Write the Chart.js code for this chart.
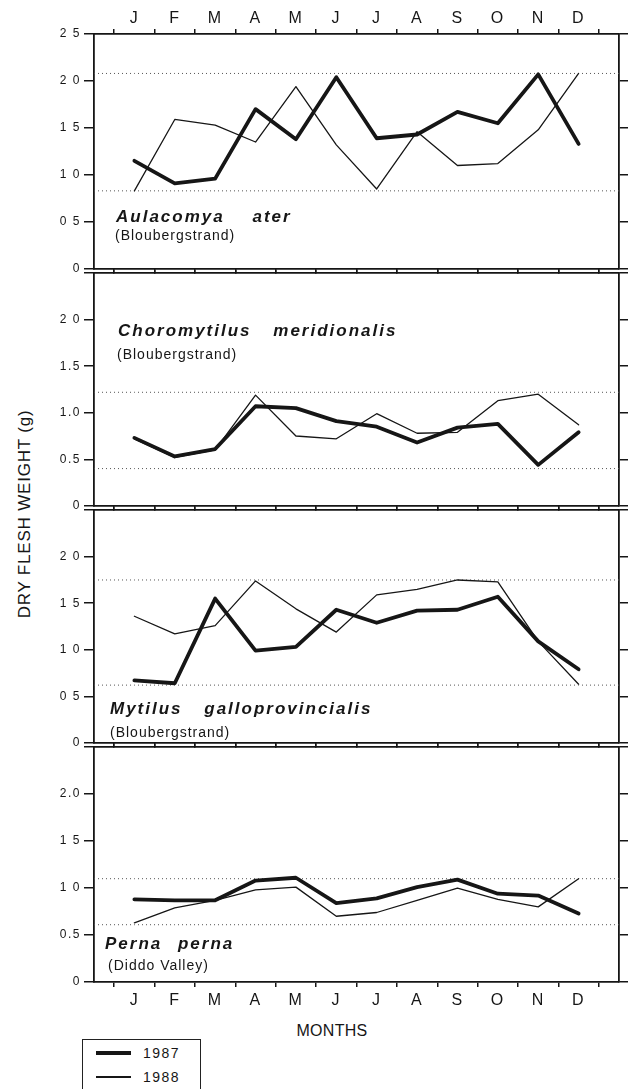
<!DOCTYPE html>
<html>
<head>
<meta charset="utf-8">
<title>Dry flesh weight of mussels, 1987-1988</title>
<script src="https://cdn.jsdelivr.net/npm/chart.js@4.4.1/dist/chart.umd.min.js"></script>
<style>
  html, body { margin: 0; padding: 0; background: #fff; }
  #page {
    position: relative; width: 635px; height: 1089px; overflow: hidden;
    font-family: 'Liberation Sans', Arial, sans-serif; color: #161616;
  }
  #page canvas { position: absolute; left: 0; }
  .species {
    position: absolute; font: italic bold 17px/17px 'Liberation Sans', Arial, sans-serif;
    letter-spacing: 2px; white-space: nowrap;
  }
  .site { position: absolute; font-size: 14px; line-height: 14px; letter-spacing: 1px; white-space: nowrap; }
  #ytitle {
    position: absolute; left: 25px; top: 514px; font-size: 17px; letter-spacing: 0.8px;
    white-space: nowrap; transform: translate(-50%, -50%) rotate(-90deg);
  }
  #xtitle {
    position: absolute; left: 332px; top: 1023px; font-size: 16px; line-height: 16px;
    letter-spacing: 0.3px; transform: translateX(-50%);
  }
  #legend {
    position: absolute; left: 82px; top: 1039px; width: 117px; height: 70px;
    border: 1px solid #222;
  }
  .legend-line { position: absolute; left: 13px; width: 35px; background: #161616; }
  .legend-text { position: absolute; left: 60px; font-size: 14px; line-height: 14px; letter-spacing: 1.5px; }
</style>
</head>
<body>
<div id="page">
  <div id="ytitle">DRY FLESH WEIGHT (g)</div>
  <div id="xtitle">MONTHS</div>
  <div id="legend"></div>
</div>
<script>
// ── Data ─────────────────────────────────────────────────────────────────────
const months = ['J', 'F', 'M', 'A', 'M', 'J', 'J', 'A', 'S', 'O', 'N', 'D'];
const years  = ['1987', '1988'];

const aulacomya1987 = [1.15, 0.91, 0.96, 1.70, 1.38, 2.04, 1.39, 1.43, 1.67, 1.55, 2.07, 1.33];
const aulacomya1988 = [0.83, 1.59, 1.53, 1.35, 1.94, 1.32, 0.85, 1.46, 1.10, 1.12, 1.48, 2.08];
const aulacomyaRange = [0.83, 2.08];

const choromytilus1987 = [0.73, 0.53, 0.61, 1.07, 1.05, 0.91, 0.85, 0.68, 0.84, 0.88, 0.44, 0.79];
const choromytilus1988 = [0.72, 0.52, 0.60, 1.19, 0.75, 0.72, 0.99, 0.78, 0.79, 1.13, 1.20, 0.87];
const choromytilusRange = [0.40, 1.22];

const mytilus1987 = [0.67, 0.64, 1.55, 0.99, 1.03, 1.43, 1.29, 1.42, 1.43, 1.57, 1.09, 0.79];
const mytilus1988 = [1.36, 1.17, 1.26, 1.74, 1.44, 1.19, 1.59, 1.65, 1.75, 1.73, 1.09, 0.63];
const mytilusRange = [0.62, 1.75];

const perna1987 = [0.88, 0.87, 0.87, 1.08, 1.11, 0.84, 0.89, 1.01, 1.09, 0.94, 0.92, 0.73];
const perna1988 = [0.63, 0.79, 0.87, 0.98, 1.01, 0.70, 0.74, 0.87, 1.00, 0.88, 0.80, 1.10];
const pernaRange = [0.61, 1.10];

// tick labels as printed (0 .. 2.5 in steps of 0.5)
const yTicksAulacomya    = ['0', '0 5', '1 0', '1 5', '2 0', '2 5'];
const yTicksChoromytilus = ['0', '0.5', '1.0', '1.5', '2 0', ''];
const yTicksMytilus      = ['0', '0 5', '1 0', '1 5', '2 0', ''];
const yTicksPerna        = ['0', '0.5', '1 0', '1 5', '2.0', ''];

// ── Layout ───────────────────────────────────────────────────────────────────
const INK = '#161616';
const PAGE_W = 635;
const AREA_LEFT = 94, AREA_RIGHT = 619, AREA_H = 237, FIRST_TOP = 34;
const RIGHT_TICK = 9;
const lineWidths = [3.8, 1.3];   // 1987 thick, 1988 thin

Chart.defaults.font.family = "'Liberation Sans', Arial, sans-serif";
Chart.defaults.color = INK;

const panels = [
  { name: 'Aulacomya ater', site: '(Bloubergstrand)', a: aulacomya1987, b: aulacomya1988,
    range: aulacomyaRange, yTicks: yTicksAulacomya, nameAt: [116, 208], gap: 21, siteAt: [115, 228] },
  { name: 'Choromytilus meridionalis', site: '(Bloubergstrand)', a: choromytilus1987, b: choromytilus1988,
    range: choromytilusRange, yTicks: yTicksChoromytilus, nameAt: [118, 322], gap: 15, siteAt: [117, 347] },
  { name: 'Mytilus galloprovincialis', site: '(Bloubergstrand)', a: mytilus1987, b: mytilus1988,
    range: mytilusRange, yTicks: yTicksMytilus, nameAt: [110, 700], gap: 15, siteAt: [110, 725] },
  { name: 'Perna perna', site: '(Diddo Valley)', a: perna1987, b: perna1988,
    range: pernaRange, yTicks: yTicksPerna, nameAt: [105, 935], gap: 9, siteAt: [108, 958] },
];

const xLabels = ['', ...months, ''];
const pad = arr => [null, ...arr, null];

function lineSet(label, data, width) {
  return {
    label, data: pad(data),
    borderColor: INK, borderWidth: width,
    pointRadius: 0, tension: 0,
    borderJoinStyle: 'round', borderCapStyle: 'round',
  };
}

function rangeSet(value) {
  return {
    label: 'range', data: xLabels.map(() => value),
    borderColor: '#555', borderWidth: 1, borderDash: [1, 3],
    pointRadius: 0,
  };
}

const axisGrid = (len) => ({
  drawOnChartArea: false, drawTicks: true, tickLength: len,
  color: INK, lineWidth: 1.5,
});
const axisBorder = { display: true, color: INK, width: 1.8 };

// wider digit spacing like the printed labels
const spacing = {
  id: 'spacing',
  beforeDraw(chart) { chart.ctx.letterSpacing = '1.5px'; },
};

// ── Panels ───────────────────────────────────────────────────────────────────
const page = document.getElementById('page');

panels.forEach((p, k) => {
  const top = FIRST_TOP + AREA_H * k;
  const first = k === 0, last = k === panels.length - 1;
  const axisTop = first ? 34 : 8;
  const axisBottom = last ? 30 : 8;

  const canvas = document.createElement('canvas');
  canvas.width = PAGE_W;
  canvas.height = axisTop + AREA_H + axisBottom;
  canvas.style.top = (top - axisTop) + 'px';
  page.appendChild(canvas);

  const monthTicks = (show, padding) => ({
    display: show, autoSkip: false, maxRotation: 0, padding,
    font: { size: 16 }, color: INK,
  });

  new Chart(canvas, {
    type: 'line',
    data: {
      labels: xLabels,
      datasets: [
        lineSet(years[0], p.a, lineWidths[0]),
        lineSet(years[1], p.b, lineWidths[1]),
        rangeSet(p.range[1]),
        rangeSet(p.range[0]),
      ],
    },
    options: {
      responsive: false,
      maintainAspectRatio: false,
      animation: false,
      events: [],
      layout: { padding: { left: 0, right: PAGE_W - AREA_RIGHT - RIGHT_TICK, top: 0, bottom: 0 } },
      plugins: { legend: { display: false }, tooltip: { enabled: false } },
      scales: {
        x: {
          type: 'category', position: 'bottom', offset: false,
          grid: { ...axisGrid(5), offset: true },
          border: axisBorder,
          ticks: monthTicks(last, 4),
          afterFit: s => { s.height = axisBottom; },
        },
        xTop: {
          type: 'category', position: 'top', offset: false,
          grid: { ...axisGrid(5), offset: true },
          border: axisBorder,
          ticks: monthTicks(first, 1),
          afterFit: s => { s.height = axisTop; },
        },
        y: {
          type: 'linear', position: 'left', min: 0, max: 2.5,
          grid: axisGrid(10),
          border: axisBorder,
          ticks: {
            stepSize: 0.5, padding: 3, font: { size: 12 }, color: INK,
            callback: v => p.yTicks[Math.round(v * 2)],
          },
          afterFit: s => { s.width = AREA_LEFT; },
        },
        yRight: {
          type: 'linear', position: 'right', min: 0, max: 2.5,
          grid: axisGrid(RIGHT_TICK),
          border: axisBorder,
          ticks: { stepSize: 0.5, display: false },
          afterFit: s => { s.width = RIGHT_TICK; },
        },
      },
    },
    plugins: [spacing],
  });

  // species name and site
  const name = document.createElement('div');
  name.className = 'species';
  name.style.left = p.nameAt[0] + 'px';
  name.style.top = p.nameAt[1] + 'px';
  name.style.wordSpacing = p.gap + 'px';
  name.textContent = p.name;
  page.appendChild(name);

  const site = document.createElement('div');
  site.className = 'site';
  site.style.left = p.siteAt[0] + 'px';
  site.style.top = p.siteAt[1] + 'px';
  site.textContent = p.site;
  page.appendChild(site);
});

// ── Legend ───────────────────────────────────────────────────────────────────
const legend = document.getElementById('legend');
const legendRows = [13, 37];
legend.innerHTML = years.map((yr, i) => {
  const w = lineWidths[i];
  return `<div class="legend-line" style="top:${legendRows[i] - w / 2}px;height:${w}px"></div>` +
         `<div class="legend-text" style="top:${legendRows[i] - 7}px">${yr}</div>`;
}).join('');
</script>
</body>
</html>
